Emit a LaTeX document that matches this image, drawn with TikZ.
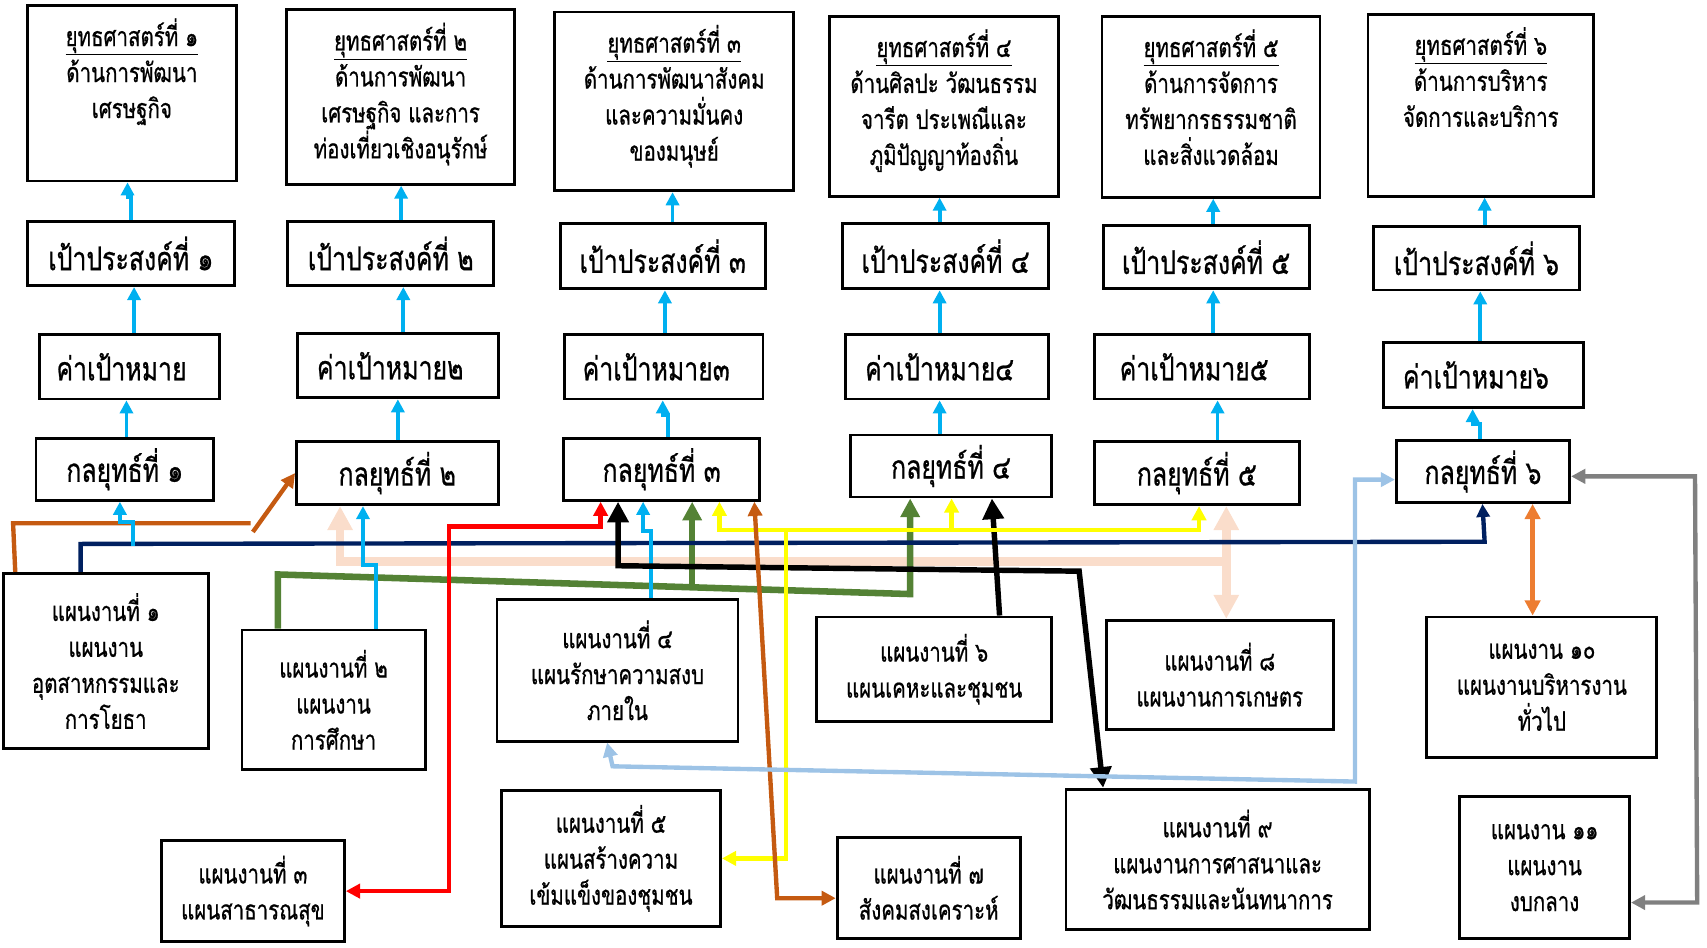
\documentclass[tikz,border=0pt]{standalone}
\usepackage{fontspec}
\setmainfont{Loma}[Script=Thai, FakeStretch=0.76, FakeBold=0.7]
\usetikzlibrary{arrows.meta}
\definecolor{cyanc}{HTML}{00B0F0}
\definecolor{navyc}{HTML}{002060}
\definecolor{brownc}{HTML}{C55A11}
\definecolor{peachc}{HTML}{FADDCB}
\definecolor{greenc}{HTML}{548235}
\definecolor{redc}{HTML}{FF0000}
\definecolor{yellowc}{HTML}{FFFF00}
\definecolor{lbluec}{HTML}{9DC3E6}
\definecolor{orangec}{HTML}{ED7D31}
\definecolor{greyc}{HTML}{808080}
\tikzset{
  cell/.style={draw, line width=2.6pt, inner sep=0pt, align=center},
  wh/.style 2 args={minimum width=#1pt, minimum height=#2pt},
  headtext/.style={font=\fontsize{30}{33}\selectfont},
  plantext/.style={font=\fontsize{24.7}{33}\selectfont},
  stext/.style={anchor=north, align=center, inner sep=0pt, font=\fontsize{24.7}{33}\selectfont},
  tri/.style={arrows={-Triangle[length=#1,width=#1]}},
  tritwo/.style={arrows={Triangle[length=#1,width=#1]-Triangle[length=#1,width=#1]}},
  cy/.style={draw=cyanc, line width=3.5pt, tri=12pt},
  ln/.style={line width=#1, line join=miter},
}
\begin{document}
\begin{tikzpicture}[x=1pt,y=-1pt]
\useasboundingbox (0,0) rectangle (1566,869);
% strategies
\node[cell, wh={192}{161}] (s1) at (121,85.5) {};
\node[cell, wh={209}{160}] (s2) at (367.5,89) {};
\node[cell, wh={219}{164}] (s3) at (618.5,93) {};
\node[cell, wh={210}{165}] (s4) at (866,97.5) {};
\node[cell, wh={200}{166}] (s5) at (1111,98) {};
\node[cell, wh={207}{167}] (s6) at (1358.5,96.5) {};
\node[stext] (s1t) at ([yshift=-13pt]s1.north) {\underline{ยุทธศาสตร์ที่ ๑}\\ด้านการพัฒนา\\เศรษฐกิจ};
\node[stext] (s2t) at ([yshift=-13pt]s2.north) {\underline{ยุทธศาสตร์ที่ ๒}\\ด้านการพัฒนา\\เศรษฐกิจ และการ\\ท่องเที่ยวเชิงอนุรักษ์};
\node[stext] (s3t) at ([yshift=-13pt]s3.north) {\underline{ยุทธศาสตร์ที่ ๓}\\ด้านการพัฒนาสังคม\\และความมั่นคง\\ของมนุษย์};
\node[stext] (s4t) at ([yshift=-13pt]s4.north) {\underline{ยุทธศาสตร์ที่ ๔}\\ด้านศิลปะ วัฒนธรรม\\จารีต ประเพณีและ\\ภูมิปัญญาท้องถิ่น};
\node[stext] (s5t) at ([yshift=-13pt]s5.north) {\underline{ยุทธศาสตร์ที่ ๕}\\ด้านการจัดการ\\ทรัพยากรธรรมชาติ\\และสิ่งแวดล้อม};
\node[stext] (s6t) at ([yshift=-13pt]s6.north) {\underline{ยุทธศาสตร์ที่ ๖}\\ด้านการบริหาร\\จัดการและบริการ};
% goals
\node[cell, headtext, wh={190}{59}] (g1) at (120,232.5) {เป้าประสงค์ที่ ๑};
\node[cell, headtext, wh={189}{59}] (g2) at (358.5,232.5) {เป้าประสงค์ที่ ๒};
\node[cell, headtext, wh={188}{60}] (g3) at (608,235) {เป้าประสงค์ที่ ๓};
\node[cell, headtext, wh={189}{60}] (g4) at (867.5,235) {เป้าประสงค์ที่ ๔};
\node[cell, headtext, wh={189}{58}] (g5) at (1106.5,236) {เป้าประสงค์ที่ ๕};
\node[cell, headtext, wh={189}{58}] (g6) at (1354.5,237) {เป้าประสงค์ที่ ๖};
% targets
\node[cell, headtext, wh={165}{59}] (t1) at (118.5,336.5) {ค่าเป้าหมาย\hspace*{14pt}};
\node[cell, headtext, wh={184}{59}] (t2) at (365,335.5) {ค่าเป้าหมาย๒\hspace*{14pt}};
\node[cell, headtext, wh={182}{59}] (t3) at (609,336.5) {ค่าเป้าหมาย๓\hspace*{14pt}};
\node[cell, headtext, wh={186}{59}] (t4) at (869,336.5) {ค่าเป้าหมาย๔\hspace*{14pt}};
\node[cell, headtext, wh={197}{59}] (t5) at (1102.5,336.5) {ค่าเป้าหมาย๕\hspace*{14pt}};
\node[cell, headtext, wh={184}{60}] (t6) at (1361,344) {ค่าเป้าหมาย๖\hspace*{14pt}};
% tactics
\node[cell, headtext, wh={163}{57}] (k1) at (114.5,430.5) {กลยุทธ์ที่ ๑};
\node[cell, headtext, wh={185}{58}] (k2) at (364.5,434) {กลยุทธ์ที่ ๒};
\node[cell, headtext, wh={180}{57}] (k3) at (607,430.5) {กลยุทธ์ที่ ๓};
\node[cell, headtext, wh={185}{57}] (k4) at (872.5,427.5) {กลยุทธ์ที่ ๔};
\node[cell, headtext, wh={188}{58}] (k5) at (1098,434) {กลยุทธ์ที่ ๕};
\node[cell, headtext, wh={159}{57}] (k6) at (1360.5,432.5) {กลยุทธ์ที่ ๖};
% plans
\node[cell, plantext, wh={188}{161}] (p1) at (97,606.5) {แผนงานที่ ๑\\แผนงาน\\อุตสาหกรรมและ\\การโยธา};
\node[cell, plantext, wh={168}{128}] (p2) at (306,642) {แผนงานที่ ๒\\แผนงาน\\การศึกษา};
\node[cell, plantext, wh={168}{93}] (p3) at (232,817.5) {แผนงานที่ ๓\\แผนสาธารณสุข};
\node[cell, plantext, wh={221}{130}] (p4) at (566.5,615) {แผนงานที่ ๔\\แผนรักษาความสงบ\\ภายใน};
\node[cell, plantext, wh={201}{125}] (p5) at (560.5,787.5) {แผนงานที่ ๕\\แผนสร้างความ\\เข้มแข็งของชุมชน};
\node[cell, plantext, wh={216}{96}] (p6) at (857,614) {แผนงานที่ ๖\\แผนเคหะและชุมชน};
\node[cell, plantext, wh={168}{93}] (p7) at (852,814.5) {แผนงานที่ ๗\\สังคมสงเคราะห์};
\node[cell, plantext, wh={208}{100}] (p8) at (1119,619) {แผนงานที่ ๘\\แผนงานการเกษตร};
\node[cell, plantext, wh={278}{129}] (p9) at (1117,788.5) {แผนงานที่ ๙\\แผนงานการศาสนาและ\\วัฒนธรรมและนันทนาการ};
\node[cell, plantext, wh={211}{129}] (p10) at (1414.5,630.5) {แผนงาน ๑๐\\แผนงานบริหารงาน\\ทั่วไป};
\node[cell, plantext, wh={156}{130}] (p11) at (1417,796) {แผนงาน ๑๑\\แผนงาน\\งบกลาง};
% upward chains
\draw[cy] (116,0 |- k1.north) -- (116,0 |- t1.south);
\draw[cy] (123,0 |- t1.north) -- (123,0 |- g1.south);
\draw[cy] (120,0 |- g1.north) -- (120,181) -- (117,181) -- (117,0 |- s1.south);
\draw[cy] (365,0 |- k2.north) -- (365,0 |- t2.south);
\draw[cy] (370,0 |- t2.north) -- (370,0 |- g2.south);
\draw[cy] (368,0 |- g2.north) -- (368,0 |- s2.south);
\draw[cy] (613,0 |- k3.north) -- (613,381) -- (608,381) -- (608,0 |- t3.south);
\draw[cy] (610,0 |- t3.north) -- (610,0 |- g3.south);
\draw[cy] (617,0 |- g3.north) -- (617,0 |- s3.south);
\draw[cy] (862,0 |- k4.north) -- (862,0 |- t4.south);
\draw[cy] (862,0 |- t4.north) -- (862,0 |- g4.south);
\draw[cy] (862,0 |- g4.north) -- (862,0 |- s4.south);
\draw[cy] (1117,0 |- k5.north) -- (1117,0 |- t5.south);
\draw[cy] (1113,0 |- t5.north) -- (1113,0 |- g5.south);
\draw[cy] (1113,0 |- g5.north) -- (1113,0 |- s5.south);
\draw[cy] (1358,0 |- k6.north) -- (1358,389) -- (1351,389) -- (1351,0 |- t6.south);
\draw[cy] (1358,0 |- t6.north) -- (1358,0 |- g6.south);
\draw[cy] (1362,0 |- g6.north) -- (1362,0 |- s6.south);
% plans to tactics
\coordinate (pe) at (1125,515);
\draw[peachc, ln=8pt, tri=22pt] (pe) -- (312,515) -- (312,0 |- k2.south);
\draw[peachc, ln=8pt, tritwo=22pt] (1125,0 |- k5.south) -- (1125,0 |- p8.north);
\draw[greenc, ln=6pt, tri=17pt] (255,0 |- p2.north) -- (255,527) -- (835,545) -- (835,0 |- k4.south);
\draw[greenc, ln=6pt, tri=17pt] (635,537) -- (635,0 |- k3.south);
\draw[navyc, ln=4pt, tri=12pt] (74,0 |- p1.north) -- (74,499) -- (1362,497) -- (1360,0 |- k6.south);
\coordinate (b1) at (230,480);
\coordinate (b2) at (232,488);
\draw[brownc, ln=4pt] (14,0 |- p1.north) -- (12,480) -- (b1);
\draw[brownc, ln=4pt, tri=13pt] (b2) -- (k2.west);
\coordinate (c1) at (122,501);
\draw[cy] (c1) -- (122,479) -- (110,479) -- (110,0 |- k1.south);
\draw[cy] (345,0 |- p2.north) -- (345,518) -- (333,518) -- (333,0 |- k2.south);
\draw[cy] (597,0 |- p4.north) -- (597,487) -- (590,487) -- (590,0 |- k3.south);
\draw[redc, ln=4pt, tritwo=13pt] (p3.east) -- (412,0 |- p3.east) -- (412,483) -- (551,483) -- (551,0 |- k3.south);
\draw[black, ln=5pt, tritwo=19pt] (567,0 |- k3.south) -- (567,519) -- (990,524) -- (1012,0 |- p9.north);
\draw[black, ln=5pt, tri=19pt] (917,0 |- p6.north) -- (910,0 |- k4.south);
\coordinate (y1) at (721,486);
\draw[yellowc, ln=4pt, tri=13pt] (y1) -- (660,486) -- (660,0 |- k3.south);
\draw[yellowc, ln=4pt, tri=13pt] (y1) -- (1100,486) -- (1100,0 |- k5.south);
\draw[yellowc, ln=4pt, tri=13pt] (873,486) -- (873,0 |- k4.south);
\draw[yellowc, ln=4pt, tri=13pt] (y1) -- (721,0 |- p5.east) -- (p5.east);
\draw[brownc, ln=4pt, tritwo=13pt] (692,0 |- k3.south) -- (713,824) -- (p7.west |- 0,824);
\draw[lbluec, ln=4pt, tritwo=13pt] (557,0 |- p4.south) -- (562,703) -- (1243,717) -- (1243,440) -- (k6.west |- 0,440);
\draw[orangec, ln=4pt, tritwo=14pt] (1406,0 |- k6.south) -- (1406,0 |- p10.north);
\draw[greyc, ln=4pt, tritwo=13pt] (k6.east |- 0,437) -- (1555,437) -- (1557,828) -- (p11.east |- 0,828);
\end{tikzpicture}
\end{document}
